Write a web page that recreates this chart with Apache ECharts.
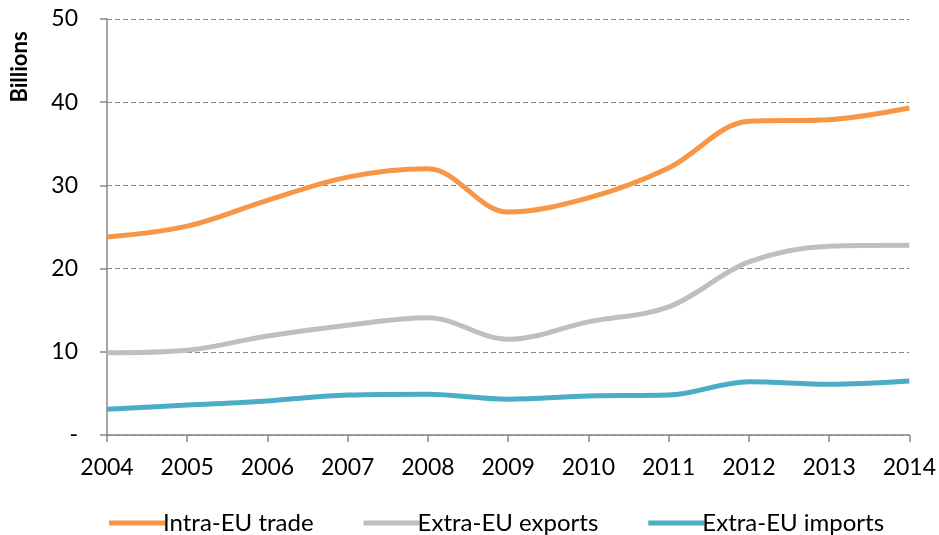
<!DOCTYPE html>
<html>
<head>
<meta charset="utf-8">
<script src="https://cdn.jsdelivr.net/npm/echarts@6/dist/echarts.min.js"></script>
<style>
  html, body { margin: 0; padding: 0; background: #fff; }
  #chart { width: 939px; height: 535px; }
</style>
</head>
<body>
<div id="chart"></div>
<script>
// Trade values in billions, 2004-2014
const years = ['2004', '2005', '2006', '2007', '2008', '2009', '2010', '2011', '2012', '2013', '2014'];
const intraEU = [23.8, 25.1, 28.2, 31.0, 32.0, 26.8, 28.5, 32.1, 37.7, 37.9, 39.3];
const extraExports = [9.9, 10.2, 11.9, 13.2, 14.1, 11.5, 13.6, 15.4, 20.8, 22.7, 22.8];
const extraImports = [3.1, 3.6, 4.1, 4.8, 4.9, 4.3, 4.7, 4.8, 6.4, 6.1, 6.5];
const yTicks = [0, 10, 20, 30, 40, 50];

const FONT = 'Lato, "Open Sans", sans-serif';
const chart = echarts.init(document.getElementById('chart'));

function lineSeries(name, data, color) {
  return {
    name: name,
    type: 'line',
    data: data,
    smooth: 0.35,
    symbol: 'none',
    lineStyle: { color: color, width: 5 },
    itemStyle: { color: color }
  };
}

chart.setOption({
  animation: false,
  grid: { left: 107, right: 29, top: 19, bottom: 100, containLabel: false },
  graphic: [{
    type: 'text',
    x: 20,
    y: 67,
    rotation: Math.PI / 2,
    style: {
      text: 'Billions',
      font: 'bold 22px ' + FONT,
      fill: '#000',
      align: 'center',
      verticalAlign: 'middle'
    }
  }],
  legend: {
    top: 506,
    left: 104,
    itemWidth: 56,
    itemHeight: 5,
    itemGap: 50,
    icon: 'rect',
    textStyle: { fontFamily: FONT, fontSize: 24, color: '#000', padding: [0, 0, 0, -7] },
    data: ['Intra-EU trade', 'Extra-EU exports', 'Extra-EU imports']
  },
  xAxis: {
    type: 'category',
    data: years,
    boundaryGap: false,
    axisLine: { lineStyle: { color: '#868686', width: 1.5 } },
    axisTick: { show: true, length: 7, lineStyle: { color: '#868686', width: 1.5 } },
    axisLabel: { fontFamily: FONT, fontSize: 23, color: '#000', margin: 21 },
    splitLine: { show: false }
  },
  yAxis: {
    type: 'value',
    min: yTicks[0],
    max: yTicks[yTicks.length - 1],
    interval: 10,
    axisLine: { show: true, lineStyle: { color: '#868686', width: 1.5 } },
    axisTick: { show: true, length: 7, lineStyle: { color: '#868686', width: 1.5 } },
    axisLabel: {
      fontFamily: FONT, fontSize: 23, color: '#000', margin: 29,
      formatter: v => (v === 0 ? '-' : String(v))
    },
    splitLine: { show: true, lineStyle: { color: '#868686', type: [5, 3], width: 1.2 } }
  },
  series: [
    lineSeries('Intra-EU trade', intraEU, '#F79646'),
    lineSeries('Extra-EU exports', extraExports, '#BFBFBF'),
    lineSeries('Extra-EU imports', extraImports, '#4BACC6')
  ]
});
</script>
</body>
</html>
